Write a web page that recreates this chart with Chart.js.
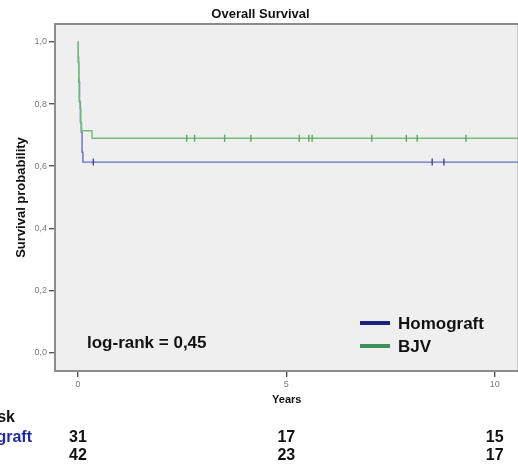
<!DOCTYPE html>
<html>
<head>
<meta charset="utf-8">
<script src="https://cdn.jsdelivr.net/npm/chart.js@4/dist/chart.umd.min.js"></script>
<style>
    html, body { margin: 0; padding: 0; background: #fff; overflow: hidden; }
    #wrap { width: 518px; height: 465px; overflow: hidden; }
</style>
</head>
<body>
<div id="wrap"><canvas id="km" width="524" height="465"></canvas></div>
<script>
// Kaplan-Meier, Gesamtueberleben (Jahre)
const homTimes = [0, 0.01, 0.02, 0.04, 0.06, 0.08, 0.10, 0.12, 10.8];
const homSurv = [1.0, 0.935, 0.871, 0.806, 0.742, 0.710, 0.645, 0.613, 0.613];
const homCensor = [0.37, 8.50, 8.78];

const bjvTimes = [0, 0.01, 0.02, 0.03, 0.05, 0.07, 0.09, 0.34, 10.8];
const bjvSurv = [1.0, 0.952, 0.881, 0.810, 0.786, 0.738, 0.714, 0.690, 0.690];
const bjvCensor = [2.61, 2.80, 3.52, 4.15, 5.31, 5.54, 5.62, 7.05, 7.88, 8.14, 9.31];

const riskTimes = [0, 5, 10];
const homRisk = [31, 17, 15];
const bjvRisk = [42, 23, 17];

const xTicks = [0, 5, 10];
const yTicks = [0, 0.2, 0.4, 0.6, 0.8, 1.0];

const groupNames = ['Homograft', 'BJV'];
const logRankText = 'log-rank = 0,45';

const FONT = "'Liberation Sans', Arial, sans-serif";
Chart.defaults.font.family = FONT;

function survAt(times, surv, t) {
    let s = surv[0];
    for (let i = 0; i < times.length; i++) {
        if (times[i] <= t) s = surv[i];
    }
    return s;
}

function curve(times, surv) {
    return times.map((t, i) => ({ x: t, y: surv[i] }));
}

function censorPoints(times, surv, marks) {
    return marks.map(t => ({ x: t, y: survAt(times, surv, t) }));
}

/**
 * Hintergrund, Rahmen, Legende, Texte und Risikotabelle
 */
const panelPlugin = {
    id: 'panel',
    beforeDraw(chart) {
        const { ctx, chartArea: a } = chart;
        ctx.save();
        ctx.fillStyle = '#efefef';
        ctx.fillRect(a.left, a.top, a.right - a.left, a.bottom - a.top);
        ctx.restore();
    },
    afterDraw(chart) {
        const { ctx, chartArea: a } = chart;
        const xs = chart.scales.x;
        ctx.save();
        ctx.strokeStyle = '#8c8c8c';
        ctx.lineWidth = 2;
        ctx.strokeRect(a.left, a.top, a.right - a.left, a.bottom - a.top);

        // log-rank
        ctx.fillStyle = '#111';
        ctx.font = 'bold 17px ' + FONT;
        ctx.textAlign = 'left';
        ctx.textBaseline = 'alphabetic';
        ctx.fillText(logRankText, 87, 348);

        // Legende
        const legendColors = ['#1a2380', '#3e8f58'];
        const legendY = [329, 352];
        groupNames.forEach((name, i) => {
            ctx.strokeStyle = legendColors[i];
            ctx.lineWidth = 4;
            ctx.beginPath();
            ctx.moveTo(360, legendY[i] - 6);
            ctx.lineTo(390, legendY[i] - 6);
            ctx.stroke();
            ctx.fillStyle = '#111';
            ctx.fillText(name, 398, legendY[i]);
        });

        // Number at risk
        ctx.font = 'bold 16px ' + FONT;
        ctx.textAlign = 'right';
        ctx.fillStyle = '#111';
        ctx.fillText('Number at risk', 15, 422);
        ctx.fillStyle = '#1f2a9b';
        ctx.fillText(groupNames[0], 32, 442);
        ctx.fillStyle = '#3e8f58';
        ctx.textAlign = 'left';
        ctx.fillText(groupNames[1], -45, 460);

        ctx.fillStyle = '#111';
        ctx.textAlign = 'center';
        riskTimes.forEach((t, i) => {
            const px = xs.getPixelForValue(t);
            ctx.fillText(String(homRisk[i]), px, 442);
            ctx.fillText(String(bjvRisk[i]), px, 460);
        });
        ctx.restore();
    }
};

new Chart(document.getElementById('km'), {
    type: 'line',
    data: {
        datasets: [
            {
                label: groupNames[0],
                data: curve(homTimes, homSurv),
                borderColor: '#6370c2',
                borderWidth: 1.4,
                stepped: true,
                pointRadius: 0,
                fill: false,
                order: 2
            },
            {
                label: groupNames[1],
                data: curve(bjvTimes, bjvSurv),
                borderColor: '#74bf74',
                borderWidth: 1.4,
                stepped: true,
                pointRadius: 0,
                fill: false,
                order: 1
            },
            {
                type: 'scatter',
                label: groupNames[0] + ' zensiert',
                data: censorPoints(homTimes, homSurv, homCensor),
                pointStyle: 'line',
                rotation: 90,
                radius: 3.5,
                borderColor: '#3d4a9c',
                borderWidth: 1.4,
                order: 0
            },
            {
                type: 'scatter',
                label: groupNames[1] + ' zensiert',
                data: censorPoints(bjvTimes, bjvSurv, bjvCensor),
                pointStyle: 'line',
                rotation: 90,
                radius: 3.5,
                borderColor: '#5aa85a',
                borderWidth: 1.4,
                order: 0
            }
        ]
    },
    options: {
        responsive: false,
        animation: false,
        devicePixelRatio: 1,
        layout: {
            padding: { left: 0, right: 3, top: 0, bottom: 58 }
        },
        plugins: {
            legend: { display: false },
            tooltip: { enabled: false },
            title: {
                display: true,
                text: 'Overall Survival',
                color: '#111',
                font: { size: 13, weight: 'bold' },
                padding: { top: 7, bottom: 1.4 }
            }
        },
        scales: {
            x: {
                type: 'linear',
                min: -0.549,
                max: 10.573,
                afterBuildTicks: axis => {
                    axis.ticks = xTicks.map(v => ({ value: v }));
                },
                afterFit: axis => {
                    axis.height = 36;
                },
                ticks: {
                    color: '#7a7a7a',
                    font: { size: 9 },
                    padding: 2,
                    maxRotation: 0,
                    callback: v => String(v)
                },
                grid: {
                    drawOnChartArea: false,
                    drawTicks: true,
                    tickLength: 6,
                    color: '#555',
                    lineWidth: 1.4
                },
                border: { display: false },
                title: {
                    display: true,
                    text: 'Years',
                    color: '#111',
                    font: { size: 11, weight: 'bold' },
                    padding: { top: 0, bottom: 0 }
                }
            },
            y: {
                type: 'linear',
                min: -0.06,
                max: 1.058,
                afterBuildTicks: axis => {
                    axis.ticks = yTicks.map(v => ({ value: v }));
                },
                afterFit: axis => {
                    axis.width = 55;
                },
                ticks: {
                    color: '#7a7a7a',
                    font: { size: 9 },
                    padding: 2,
                    callback: v => v.toFixed(1).replace('.', ',')
                },
                grid: {
                    drawOnChartArea: false,
                    drawTicks: true,
                    tickLength: 6,
                    color: '#555',
                    lineWidth: 1.4
                },
                border: { display: false },
                title: {
                    display: true,
                    text: 'Survival probability',
                    color: '#111',
                    font: { size: 13, weight: 'bold' },
                    padding: { top: 14, bottom: 0 }
                }
            }
        }
    },
    plugins: [panelPlugin]
});
</script>
</body>
</html>
